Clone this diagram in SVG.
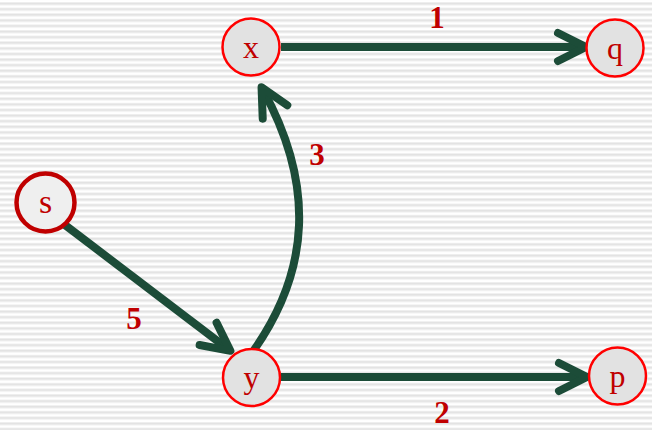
<svg xmlns="http://www.w3.org/2000/svg" width="652" height="430" viewBox="0 0 652 430">
<defs>
<pattern id="stripes" x="0" y="2" width="652" height="5.6" patternUnits="userSpaceOnUse">
<rect x="0" y="0" width="652" height="1" fill="#eeeeee"/>
<rect x="0" y="1" width="652" height="1.6" fill="#e0e0e0"/>
<rect x="0" y="2.6" width="652" height="0.8" fill="#f1f1f1"/>
</pattern>
<marker id="arr" markerUnits="userSpaceOnUse" markerWidth="60" markerHeight="60" viewBox="-40 -30 60 60" refX="-3" refY="0" orient="auto" overflow="visible">
<path d="M -28 -14 L 0 0 L -28 14" fill="none" stroke="#1c4c38" stroke-width="8" stroke-linecap="round" stroke-linejoin="round"/>
</marker>
<style>
.node circle{fill:#e2e2e2;stroke:#ff0000;stroke-width:2.5}
.node text{font-family:"Liberation Serif","DejaVu Serif",serif;font-size:32px;fill:#c00000;text-anchor:middle}
.edge{fill:none;stroke:#1c4c38;stroke-width:8;marker-end:url(#arr)}
.lbl{font-family:"Liberation Serif","DejaVu Serif",serif;font-size:31px;font-weight:bold;fill:#c00000;text-anchor:middle}
</style>
</defs>
<rect width="652" height="430" fill="#ffffff"/>
<rect width="652" height="430" fill="url(#stripes)"/>
<g id="connectors">
<path class="edge" d="M 281 47 L 583 47"/>
<path class="edge" d="M 281 377 L 584 377"/>
<path class="edge" d="M 65 225 L 228 349"/>
<path class="edge" d="M 254 350 C 310 270, 315 185, 263 90"/>
</g>
<g id="labels">
<text class="lbl" x="437" y="28">1</text>
<text class="lbl" x="317" y="165">3</text>
<text class="lbl" x="134" y="329">5</text>
<text class="lbl" x="442" y="423">2</text>
</g>
<g id="node-x" class="node"><circle cx="251" cy="47" r="28.5"/><text x="251" y="58">x</text></g>
<g id="node-q" class="node"><circle cx="615" cy="48" r="28.5"/><text x="615" y="59">q</text></g>
<g id="node-s" class="node"><circle cx="45.5" cy="202.5" r="29" style="fill:#efefef;stroke:#c00000;stroke-width:4.5"/><text x="45.5" y="213" style="font-size:34px">s</text></g>
<g id="node-y" class="node"><circle cx="251.5" cy="377.5" r="28.5"/><text x="251.5" y="388">y</text></g>
<g id="node-p" class="node"><circle cx="617.5" cy="376" r="28.5"/><text x="617.5" y="387">p</text></g>
</svg>
